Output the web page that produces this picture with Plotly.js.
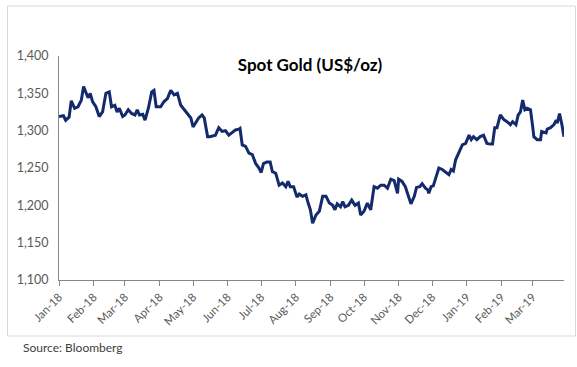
<!DOCTYPE html>
<html>
<head>
<meta charset="utf-8">
<script src="https://cdn.plot.ly/plotly-3.0.1.min.js"></script>
<style>
html,body{margin:0;padding:0;background:#fff;}
#chart{width:577px;height:367px;}
</style>
</head>
<body>
<div id="chart"></div>
<script>
const dates = [
"2018-01-01","2018-01-05","2018-01-07","2018-01-10","2018-01-12","2018-01-15","2018-01-18","2018-01-21","2018-01-23","2018-01-25",
"2018-01-27","2018-01-29","2018-01-31","2018-02-03","2018-02-06","2018-02-09","2018-02-12","2018-02-15","2018-02-17","2018-02-20",
"2018-02-22","2018-02-24","2018-02-27","2018-03-01","2018-03-04","2018-03-07","2018-03-10","2018-03-12","2018-03-14","2018-03-17",
"2018-03-19","2018-03-22","2018-03-25","2018-03-27","2018-03-29","2018-04-02","2018-04-05","2018-04-08","2018-04-11","2018-04-14",
"2018-04-17","2018-04-20","2018-04-23","2018-04-26","2018-04-29","2018-05-01","2018-05-05","2018-05-06","2018-05-09","2018-05-11",
"2018-05-14","2018-05-16","2018-05-21","2018-05-24","2018-05-27","2018-05-30","2018-06-02","2018-06-05","2018-06-08","2018-06-11",
"2018-06-12","2018-06-14","2018-06-17","2018-06-20","2018-06-23","2018-06-26","2018-06-29","2018-07-01","2018-07-03","2018-07-06",
"2018-07-09","2018-07-11","2018-07-14","2018-07-17","2018-07-20","2018-07-23","2018-07-25","2018-07-27","2018-07-30","2018-08-02",
"2018-08-04","2018-08-07","2018-08-10","2018-08-12","2018-08-14","2018-08-16","2018-08-19","2018-08-22","2018-08-23","2018-08-25",
"2018-08-28","2018-08-31","2018-09-03","2018-09-05","2018-09-07","2018-09-10","2018-09-12","2018-09-14","2018-09-17","2018-09-20",
"2018-09-23","2018-09-26","2018-09-28","2018-10-01","2018-10-04","2018-10-07","2018-10-10","2018-10-13","2018-10-16","2018-10-19",
"2018-10-22","2018-10-25","2018-10-28","2018-10-31","2018-11-01","2018-11-04","2018-11-07","2018-11-10","2018-11-12","2018-11-15",
"2018-11-17","2018-11-20","2018-11-22","2018-11-25","2018-11-27","2018-11-28","2018-11-30","2018-12-02","2018-12-04","2018-12-07",
"2018-12-10","2018-12-13","2018-12-16","2018-12-18","2018-12-20","2018-12-22","2018-12-25","2018-12-28","2018-12-31","2019-01-03",
"2019-01-05","2019-01-07","2019-01-10","2019-01-13","2019-01-16","2019-01-19","2019-01-22","2019-01-24","2019-01-26","2019-01-28",
"2019-01-31","2019-02-03","2019-02-06","2019-02-09","2019-02-11","2019-02-14","2019-02-16","2019-02-18","2019-02-20","2019-02-22",
"2019-02-24","2019-02-27","2019-03-01","2019-03-02","2019-03-05","2019-03-08","2019-03-09","2019-03-13","2019-03-14","2019-03-17",
"2019-03-20","2019-03-22","2019-03-23","2019-03-25","2019-03-27","2019-03-29"
];
const goldPrice = [
1319,1320,1314,1318,1340,1330,1332,1341,1359,1350,
1344,1350,1339,1332,1319,1325,1350,1352,1332,1334,
1325,1330,1319,1321,1328,1323,1321,1328,1321,1322,
1314,1330,1352,1354,1332,1332,1339,1343,1354,1348,
1350,1334,1328,1323,1317,1305,1315,1317,1321,1317,
1292,1292,1294,1304,1299,1300,1294,1297,1301,1302,
1303,1281,1279,1270,1268,1256,1250,1244,1256,1258,
1258,1245,1243,1227,1230,1225,1232,1225,1225,1211,
1215,1212,1214,1203,1194,1176,1187,1192,1198,1212,
1212,1203,1200,1194,1202,1198,1205,1198,1200,1207,
1200,1203,1187,1192,1203,1194,1225,1223,1227,1227,
1223,1235,1233,1216,1235,1232,1225,1212,1202,1212,
1224,1225,1229,1223,1221,1216,1225,1226,1236,1250,
1248,1244,1241,1248,1246,1261,1270,1281,1283,1294,
1288,1292,1288,1292,1294,1283,1282,1282,1304,1304,
1321,1315,1312,1308,1312,1308,1321,1325,1341,1328,
1330,1328,1305,1292,1288,1288,1299,1297,1302,1304,
1308,1314,1310,1323,1309,1292
];
const chartTitle = "Spot Gold (US$/oz)";
const sourceText = "Source: Bloomberg";
const xRange = ["2018-01-01", "2019-03-29"];
const yRange = [1100, 1400];

const W = 577, H = 367;
const M = {l: 59, r: 13, t: 56, b: 87};
const pw = W - M.l - M.r, ph = H - M.t - M.b;
const px = v => (v - M.l) / pw;
const py = v => (H - M.b - v) / ph;

const trace = {
  type: "scatter", mode: "lines",
  x: dates, y: goldPrice,
  line: {color: "#132A6C", width: 3},
  hoverinfo: "x+y"
};

const layout = {
  width: W, height: H,
  margin: M,
  paper_bgcolor: "#ffffff", plot_bgcolor: "#ffffff",
  showlegend: false,
  font: {family: "Lato, 'Liberation Sans', sans-serif", color: "#595959", size: 11},
  title: {
    text: "<b>" + chartTitle + "</b>",
    font: {family: "Lato, 'Liberation Sans', sans-serif", size: 17, color: "#000000"},
    xref: "container", yref: "container",
    x: 310 / W, y: 1 - 65 / H, xanchor: "center", yanchor: "middle"
  },
  xaxis: {
    type: "date", range: xRange,
    tick0: "2018-01-01", dtick: "M1", tickformat: "%b-%y",
    tickangle: -45, ticks: "outside", ticklen: 5, tickcolor: "#868686", tickwidth: 1,
    showline: true, linecolor: "#868686", linewidth: 1,
    showgrid: false, zeroline: false,
    tickfont: {size: 11.5, color: "#595959"}
  },
  yaxis: {
    range: yRange, dtick: 50, tickformat: ",",
    ticks: "", showline: true, linecolor: "#868686", linewidth: 1,
    showgrid: false, zeroline: false,
    tickfont: {size: 12.5, color: "#595959"},
    ticklabelstandoff: 7
  },
  shapes: [{
    type: "rect", xref: "paper", yref: "paper",
    x0: px(7.5), x1: px(575.5), y0: py(336), y1: py(6),
    line: {color: "#D9D9D9", width: 1}, fillcolor: "rgba(0,0,0,0)", layer: "below"
  }],
  annotations: [{
    text: sourceText, xref: "paper", yref: "paper",
    x: px(21), y: py(347), xanchor: "left", yanchor: "middle",
    showarrow: false, font: {size: 12, color: "#404040"}
  }]
};

Plotly.newPlot("chart", [trace], layout, {displayModeBar: false, staticPlot: true});
</script>
</body>
</html>
